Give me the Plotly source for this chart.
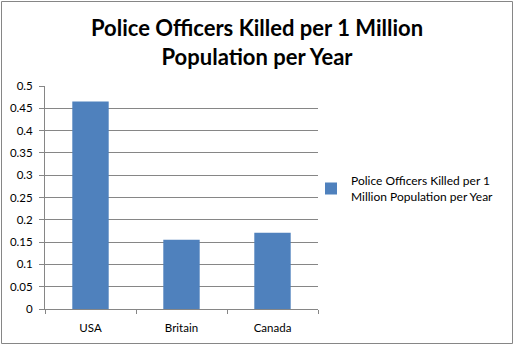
import plotly.graph_objects as go

categories = ["USA", "Britain", "Canada"]
values = [0.465, 0.155, 0.171]
series_name = "Police Officers Killed per 1<br>Million Population per Year"
title_text = "Police Officers Killed per 1 Million<br>Population per Year"
y_ticks = [0, 0.05, 0.1, 0.15, 0.2, 0.25, 0.3, 0.35, 0.4, 0.45, 0.5]
y_tick_labels = ["0", "0.05", "0.1", "0.15", "0.2", "0.25", "0.3", "0.35", "0.4", "0.45", "0.5"]

W, H = 514, 345
ml, mr, mt, mb = 45, 196, 86, 36
pw, ph = W - ml - mr, H - mt - mb

FONT = "Lato, Calibri, Carlito, sans-serif"
GRID = "#868686"

fig = go.Figure()
fig.add_trace(go.Bar(
    x=categories, y=values, name=series_name,
    marker=dict(color="#4F81BD", line=dict(width=0)),
    showlegend=True,
))

def px_to_paper_x(px):
    return (px - ml) / pw

def py_to_paper_y(py):
    return (H - mb - py) / ph

fig.add_shape(type="rect", xref="paper", yref="paper",
              x0=px_to_paper_x(1.5), x1=px_to_paper_x(512.5),
              y0=py_to_paper_y(343.5), y1=py_to_paper_y(1.5),
              line=dict(color=GRID, width=1), fillcolor="rgba(0,0,0,0)", layer="below")

fig.add_annotation(text="<b>" + title_text + "</b>", xref="paper", yref="paper",
                   x=px_to_paper_x(257), y=py_to_paper_y(12), xanchor="center", yanchor="top",
                   showarrow=False, align="center",
                   font=dict(family=FONT, size=22, color="black"))

fig.update_layout(
    width=W, height=H,
    margin=dict(l=ml, r=mr, t=mt, b=mb, autoexpand=False),
    paper_bgcolor="white", plot_bgcolor="white",
    bargap=0.6,
    font=dict(family=FONT, size=11, color="black"),
    legend=dict(xref="container", yref="container", x=311 / W, y=1 - 189 / H,
                xanchor="left", yanchor="middle", font=dict(family=FONT, size=12),
                bgcolor="rgba(0,0,0,0)", itemwidth=30, tracegroupgap=0),
    xaxis=dict(showline=True, linecolor=GRID, linewidth=1, ticks="outside", tickson="boundaries",
               ticklen=4, tickcolor=GRID, showgrid=False, tickfont=dict(size=11.5),
               ticklabelstandoff=8),
    yaxis=dict(range=[0, 0.5], tickvals=y_ticks, ticktext=y_tick_labels, showline=True,
               linecolor=GRID, linewidth=1, ticks="outside", ticklen=5, tickcolor=GRID,
               showgrid=True, gridcolor=GRID, gridwidth=1, zeroline=False,
               tickfont=dict(size=11.5), ticklabelstandoff=4),
)

fig.write_html("out.html")
